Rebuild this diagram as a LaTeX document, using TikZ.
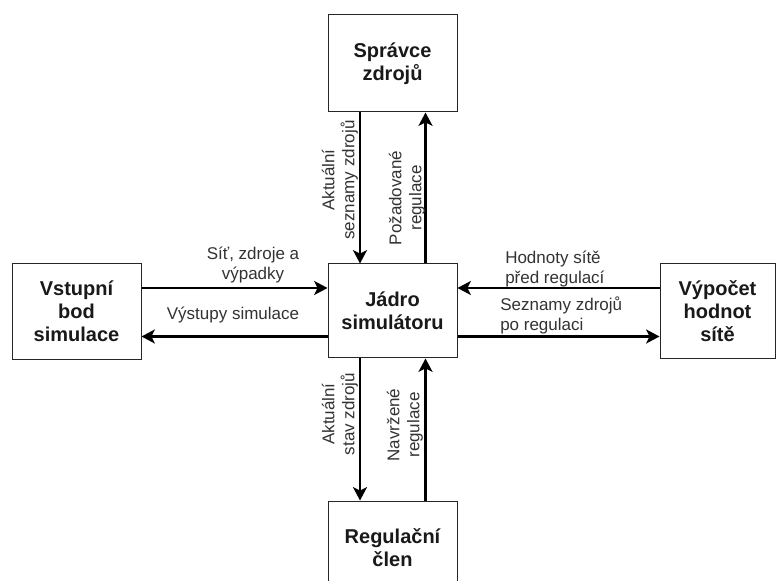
\documentclass[tikz,border=0pt]{standalone}
\usepackage{fontspec}
\setmainfont{Liberation Sans}
\usetikzlibrary{arrows.meta,calc}
\tikzset{
  block/.style={draw=black!85, line width=0.75pt, fill=white, align=center,
    font=\fontsize{15pt}{17.25pt}\selectfont\bfseries, text=black!90, inner sep=0pt},
  flow/.style={line width=1.8pt, -{Stealth[length=10pt,width=10.5pt,inset=2.6pt]}},
  note/.style={font=\fontsize{12.75pt}{15pt}\selectfont, text=black!80, inner sep=0pt},
}
\begin{document}
\begin{tikzpicture}[x=0.75pt,y=-0.75pt]
\useasboundingbox (0,0) rectangle (776,581);
\clip (0,0) rectangle (776,581);
\fill[white] (0,0) rectangle (776,581);

% blocks (sizes in pt: one unit is 0.75pt)
\node[block, minimum width=96.75pt, minimum height=72.75pt] (res)  at (392.5,63.5) {Správce\\zdrojů};
\node[block, minimum width=96.75pt, minimum height=70.5pt]  (core) at (392.5,311) {Jádro\\simulátoru};
\node[block, minimum width=96.75pt, minimum height=72pt]    (inp)  at (76.5,311.5) {Vstupní\\bod\\simulace};
\node[block, minimum width=86.25pt, minimum height=71.25pt] (calc) at (717.5,311.5) {Výpočet\\hodnot\\sítě};
\node[block, minimum width=96.75pt, minimum height=70.5pt]  (reg)  at (392.5,548) {Regulační\\člen};

% top pair
\draw[flow] ($(res.south)+(-32.5,0)$) -- ($(core.north)+(-32.5,0)$);
\draw[flow] ($(core.north)+(33,0)$) -- ($(res.south)+(33,0)$);
% bottom pair
\draw[flow] ($(core.south)+(-32.5,0)$) -- ($(reg.north)+(-32.5,0)$);
\draw[flow] ($(reg.north)+(33,0)$) -- ($(core.south)+(33,0)$);
% left pair
\draw[flow] (inp.east |- 0,288) -- (core.west |- 0,288);
\draw[flow] (core.west |- 0,336.5) -- (inp.east |- 0,336.5);
% right pair
\draw[flow] (calc.west |- 0,288) -- (core.east |- 0,288);
\draw[flow] (core.east |- 0,336.5) -- (calc.west |- 0,336.5);

% labels
\node[note, rotate=90, align=center] (l1) at (340,180) {Aktuální\\seznamy zdrojů};
\node[note, rotate=90, align=center] (l2) at (407,198) {Požadované\\regulace};
\node[note, rotate=90, align=center] (l3) at (340,414) {Aktuální\\stav zdrojů};
\node[note, rotate=90, align=center] (l4) at (405,425) {Navržené\\regulace};
\node[note, align=center] (l5) at (253,265) {Síť, zdroje a\\výpadky};
\node[note] (l6) at (233,315) {Výstupy simulace};
\node[note, align=left, anchor=west] (l7) at (505,269) {Hodnoty sítě\\před regulací};
\node[note, align=left, anchor=west] (l8) at (500,315) {Seznamy zdrojů\\po regulaci};
\end{tikzpicture}
\end{document}
